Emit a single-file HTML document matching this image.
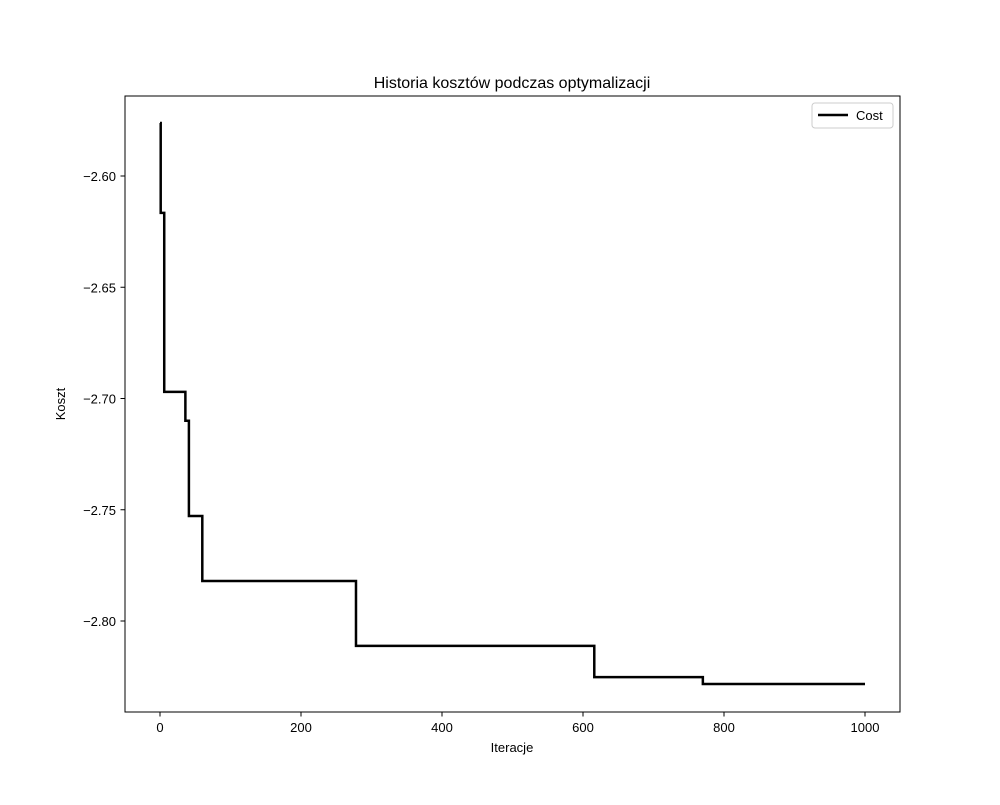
<!DOCTYPE html>
<html><head><meta charset="utf-8"><style>
body{margin:0;background:#fff;}
text{font-family:"Liberation Sans","DejaVu Sans",sans-serif;fill:#000;}
</style></head><body>
<svg id="chart" width="1000" height="800">
<rect x="0" y="0" width="1000" height="800" fill="#fff"/>
<text x="512" y="88" font-size="16" text-anchor="middle">Historia kosztów podczas optymalizacji</text>
<text x="512" y="752" font-size="13" text-anchor="middle">Iteracje</text>
<text x="65" y="404" font-size="13" text-anchor="middle" transform="rotate(-90 65 404)">Koszt</text>
<g id="ticks"></g>
<path id="line" fill="none" stroke="#000" stroke-width="2.5"/>
<rect x="125" y="96" width="775" height="616" fill="none" stroke="#000" stroke-width="1"/>
<g>
<rect x="812" y="103" width="81" height="25" rx="3" fill="#fff" stroke="#ccc"/>
<line x1="818" y1="115" x2="848" y2="115" stroke="#000" stroke-width="2.5"/>
<text x="856" y="120" font-size="13">Cost</text>
</g>
</svg>
<script>
const iterations = [0, 1, 6, 36, 41, 60, 278, 616, 770, 1000];
const costs = [-2.5762, -2.6166, -2.697, -2.710, -2.7528, -2.782, -2.8112, -2.8252, -2.8283, -2.8283];
const xTicks = [0, 200, 400, 600, 800, 1000];
const yTicks = [-2.60, -2.65, -2.70, -2.75, -2.80];
const yTickLabels = ["−2.60", "−2.65", "−2.70", "−2.75", "−2.80"];

function xs(v){return 160 + v * 0.705;}
function ys(v){return 176 + (-2.60 - v) * 2225;}

const ns = "http://www.w3.org/2000/svg";
const g = document.getElementById('ticks');
xTicks.forEach(t => {
  const l = document.createElementNS(ns, 'line');
  l.setAttribute('x1', xs(t)); l.setAttribute('x2', xs(t));
  l.setAttribute('y1', 712); l.setAttribute('y2', 716.5);
  l.setAttribute('stroke', '#000');
  
  
  g.appendChild(l);
  const tx = document.createElementNS(ns, 'text');
  tx.setAttribute('x', xs(t)); tx.setAttribute('y', 732);
  tx.setAttribute('font-size', '13'); tx.setAttribute('text-anchor', 'middle');
  tx.textContent = t;
  
  
  g.appendChild(tx);
});
yTicks.forEach((t, i) => {
  const l = document.createElementNS(ns, 'line');
  l.setAttribute('x1', 120.5); l.setAttribute('x2', 125);
  l.setAttribute('y1', ys(t)); l.setAttribute('y2', ys(t));
  l.setAttribute('stroke', '#000');
  
  
  g.appendChild(l);
  const tx = document.createElementNS(ns, 'text');
  tx.setAttribute('x', 116); tx.setAttribute('y', ys(t) + 5);
  tx.setAttribute('font-size', '13'); tx.setAttribute('text-anchor', 'end');
  tx.textContent = yTickLabels[i];
  
  
  g.appendChild(tx);
});
let d = '';
for (let i = 0; i < iterations.length; i++) {
  if (i === 0) d += 'M' + xs(iterations[0]) + ' ' + ys(costs[0]);
  else d += ' L' + xs(iterations[i]) + ' ' + ys(costs[i-1]) + ' L' + xs(iterations[i]) + ' ' + ys(costs[i]);
}
document.getElementById('line').setAttribute('d', d);
</script>
</body></html>
